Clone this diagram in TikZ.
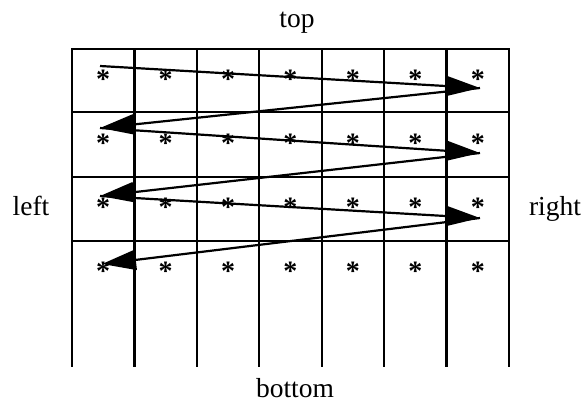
\documentclass[tikz,border=0pt]{standalone}
\usepackage{fontspec}
\setmainfont{Liberation Serif}
\usetikzlibrary{arrows.meta}
\tikzset{
  gridline/.style={line width=2.4pt, line cap=rect},
  zig/.style={line width=2.2pt, -{Triangle[length=34pt, width=20pt]}},
  star/.style={inner sep=0pt, font=\fontsize{28}{30}\selectfont\bfseries},
  label/.style={anchor=base, font=\fontsize{27.5}{32}\selectfont},
}
\begin{document}
\begin{tikzpicture}[x=1pt, y=-1pt]
\useasboundingbox (0,0) rectangle (587,405);
% grid
\foreach \i in {0,...,7} {
  \draw[gridline] ({72+62.43*\i},49) -- ({72+62.43*\i},366);
}
\foreach \yy in {49,112,177,241} {
  \draw[gridline] (72,\yy) -- (509,\yy);
}
% stars
\foreach \j in {0,...,3} {
  \foreach \i in {0,...,6} {
    \node[star] (s\j\i) at ({103.2+62.43*\i},{79+64*\j}) {*};
  }
}
% zigzag points
\coordinate (p0) at (100,66);
\coordinate (r1) at (480,88);
\coordinate (l2) at (100,128);
\coordinate (r2) at (480,153);
\coordinate (l3) at (100,196);
\coordinate (r3) at (480,218);
\coordinate (l4) at (102,264);
\draw[zig] (p0) -- (r1);
\draw[zig] (r1) -- (l2);
\draw[zig] (l2) -- (r2);
\draw[zig] (r2) -- (l3);
\draw[zig] (l3) -- (r3);
\draw[zig] (r3) -- (l4);
% labels
\node[label] (top) at (297,27) {top};
\node[label] (bottom) at (295,397) {bottom};
\node[label] (left) at (31,215) {left};
\node[label] (right) at (555,215) {right};
\end{tikzpicture}
\end{document}
